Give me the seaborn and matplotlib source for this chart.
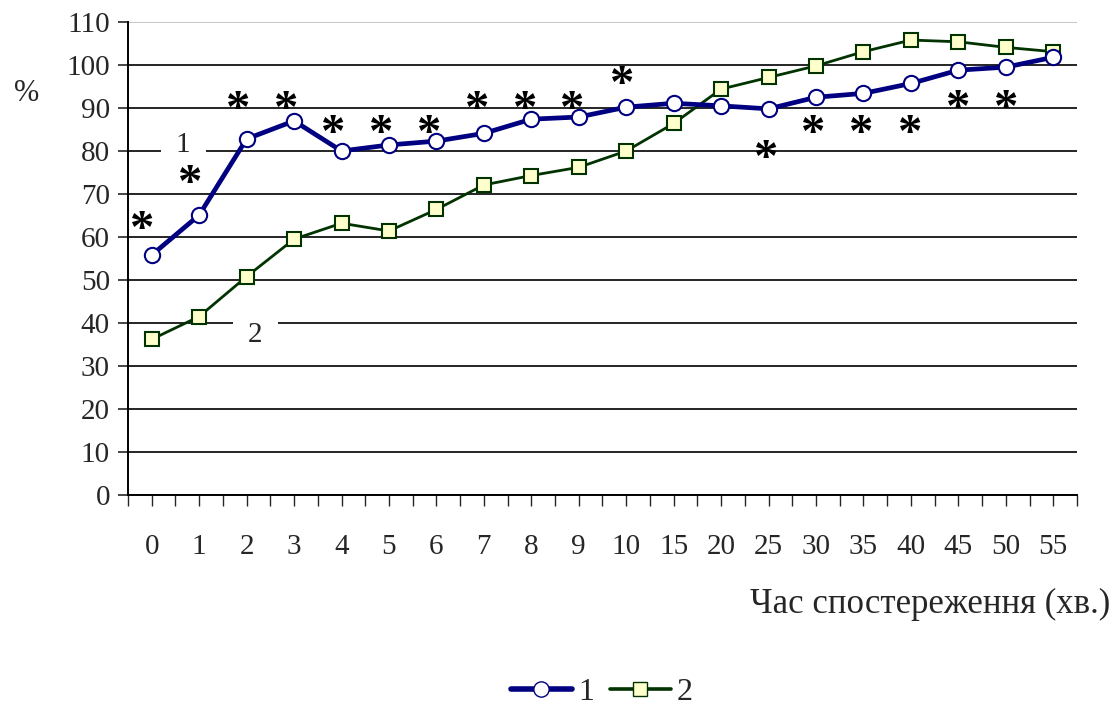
import numpy as np
import pandas as pd
import matplotlib.pyplot as plt
import seaborn as sns
from matplotlib.lines import Line2D

time_labels = ["0", "1", "2", "3", "4", "5", "6", "7", "8", "9", "10",
               "15", "20", "25", "30", "35", "40", "45", "50", "55"]
series_1 = [55.8, 65.1, 82.8, 87.0, 80.0, 81.4, 82.3, 84.1, 87.4, 87.9, 90.2,
            91.1, 90.5, 89.8, 92.5, 93.4, 95.7, 98.8, 99.5, 101.8]
series_2 = [36.2, 41.5, 50.8, 59.5, 63.2, 61.4, 66.4, 72.1, 74.3, 76.2, 80.0,
            86.4, 94.4, 97.1, 99.8, 103.1, 105.8, 105.4, 104.1, 103.1]
# significance marks: category index and level
star_x = [-0.2, 0.81, 1.82, 2.83, 3.82, 4.83, 5.84, 6.86, 7.87, 8.87, 9.91,
          12.94, 13.94, 14.96, 15.98, 17.0, 18.0]
star_y = [63.5, 74.4, 91.5, 91.5, 86.0, 86.0, 86.0, 91.5, 91.5, 91.5, 97.3,
          80.2, 85.9, 85.9, 85.9, 91.7, 91.7]

sns.set_style("white")
plt.rcParams['font.family'] = ['Liberation Serif', 'DejaVu Serif']

df = pd.DataFrame({"pos": np.arange(len(time_labels)),
                   "s1": series_1, "s2": series_2})

fig = plt.figure(figsize=(11.15, 7.12), dpi=100)
ax = fig.add_axes([0.1148, 0.3048, 0.8511, 0.6643])

sns.lineplot(data=df, x="pos", y="s1", ax=ax, color="#000080", linewidth=3.4,
             marker="o", markersize=11, markerfacecolor="white",
             markeredgecolor="#000080", markeredgewidth=1.5, zorder=5)
sns.lineplot(data=df, x="pos", y="s2", ax=ax, color="#003300", linewidth=2.0,
             marker="s", markersize=10, markerfacecolor="#FFFFCC",
             markeredgecolor="#003300", markeredgewidth=1.5, zorder=4)

for sx, sy in zip(star_x, star_y):
    ax.text(sx, sy - 5.0, "*", fontsize=35, fontweight="bold", color="black",
            ha="center", va="baseline", zorder=6)

ax.text(0.66, 81.4, "1", fontsize=21, ha="center", va="center", zorder=3,
        bbox=dict(facecolor="white", edgecolor="none", pad=11))
ax.text(2.18, 37.2, "2", fontsize=21, ha="center", va="center", zorder=3,
        bbox=dict(facecolor="white", edgecolor="none", pad=11))

ax.set_xlim(-0.5, len(time_labels) - 0.5)
ax.set_ylim(0, 110)
ax.set_yticks(np.arange(0, 111, 10))
ax.set_xticks(np.arange(len(time_labels)))
ax.set_xticklabels(time_labels)
ax.set_xticks(np.arange(-0.5, len(time_labels), 1.0), minor=True)

ax.grid(axis="y", color="black", linewidth=1.2)
ax.yaxis.get_gridlines()[-1].set_color("#bbbbbb")
ax.set_axisbelow(True)

for side in ["top", "right"]:
    ax.spines[side].set_visible(False)
for side in ["left", "bottom"]:
    ax.spines[side].set_color("black")
    ax.spines[side].set_linewidth(1.4)

ax.tick_params(axis="y", direction="out", length=7, width=1.2, labelsize=21,
               pad=6, left=True)
ax.tick_params(axis="x", which="major", direction="out", length=8, width=1,
               labelsize=21, pad=20, bottom=True)
ax.tick_params(axis="x", which="minor", direction="out", length=8, width=1,
               bottom=True)

ax.set_xlabel("")
ax.set_ylabel("")
fig.text(0.024, 0.868, "%", fontsize=22, ha="center", va="center")
fig.text(0.996, 0.151, "Час спостереження (хв.)", fontsize=25,
         ha="right", va="center")

handles = [
    Line2D([], [], color="#000080", linewidth=4, marker="o", markersize=11,
           markerfacecolor="white", markeredgecolor="#000080"),
    Line2D([], [], color="#003300", linewidth=2.6, marker="s", markersize=10,
           markerfacecolor="#FFFFCC", markeredgecolor="#003300"),
]
fig.legend(handles, ["1", "2"], loc="center", bbox_to_anchor=(0.54, 0.027),
           ncol=2, frameon=False, fontsize=23, handlelength=1.9,
           handletextpad=0.2, columnspacing=0.5)

fig.savefig("out.png", dpi=100)
